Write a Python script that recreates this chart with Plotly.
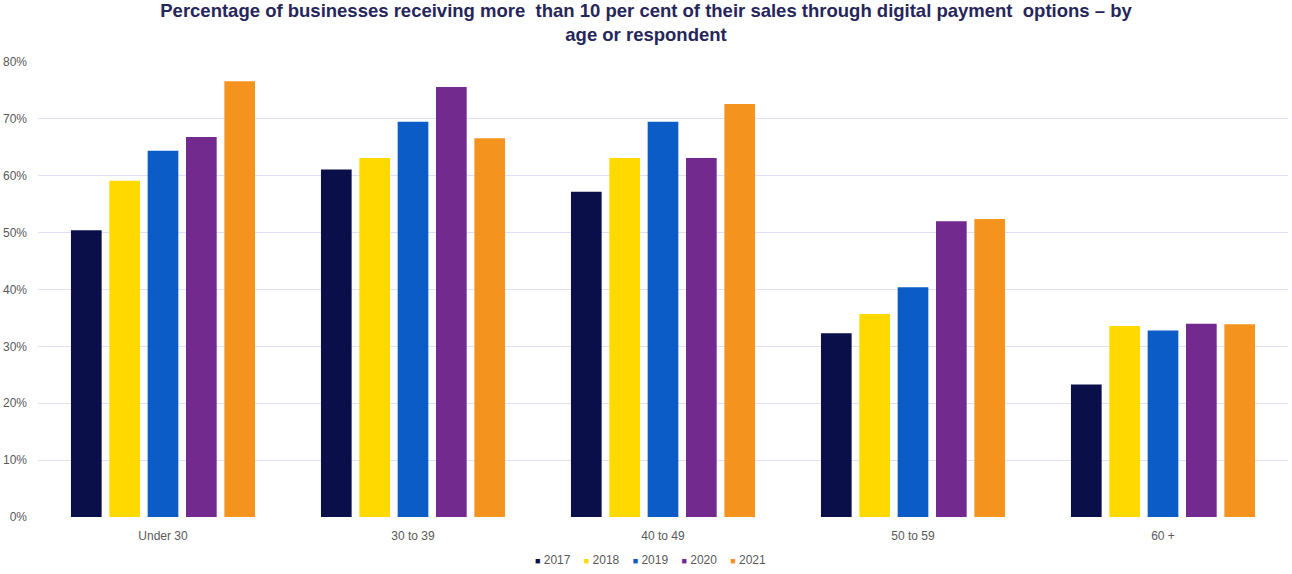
import plotly.graph_objects as go

# Age bands of the respondent
categories = ["Under 30", "30 to 39", "40 to 49", "50 to 59", "60 +"]

# Share of businesses (%) receiving >10% of sales via digital payments
years = ["2017", "2018", "2019", "2020", "2021"]
share_2017 = [50.4, 61.1, 57.2, 32.3, 23.3]
share_2018 = [59.1, 63.1, 63.1, 35.7, 33.6]
share_2019 = [64.4, 69.5, 69.5, 40.4, 32.8]
share_2020 = [66.8, 75.6, 63.1, 52.0, 34.0]
share_2021 = [76.6, 66.6, 72.6, 52.4, 33.9]

series = [share_2017, share_2018, share_2019, share_2020, share_2021]
colors = ["#0a0f4a", "#ffd900", "#0b5cc6", "#722a8e", "#f4931e"]

fig = go.Figure()
for year, values, color in zip(years, series, colors):
    fig.add_trace(go.Bar(
        name=year,
        x=categories,
        y=values,
        marker=dict(color=color, line=dict(width=0)),
        showlegend=False,
    ))

# Compact key below the axis: small coloured square followed by the year
key_text = "&nbsp;&nbsp;&nbsp;&nbsp;".join(
    f"<span style='color:{c};font-size:9px'>■</span>&nbsp;{y}" for y, c in zip(years, colors)
)
fig.add_annotation(
    text=key_text,
    xref="paper", yref="paper",
    x=0.49, y=-0.095,
    xanchor="center", yanchor="middle",
    showarrow=False,
    font=dict(size=12, color="#595959"),
)

fig.update_layout(
    width=1292,
    height=574,
    barmode="group",
    bargap=0.233,
    bargroupgap=0.2,
    plot_bgcolor="white",
    paper_bgcolor="white",
    margin=dict(l=38, r=4, t=62, b=57),
    title=dict(
        text="Percentage of businesses receiving more  than 10 per cent of their sales through digital payment  options – by<br>age or respondent",
        x=0.5,
        xanchor="center",
        y=0.971,
        yanchor="middle",
        font=dict(family="Liberation Sans, Arial, sans-serif", size=18.5, color="#26265a", weight="bold"),
    ),
    font=dict(family="Liberation Sans, Arial, sans-serif", size=12, color="#595959"),
)

fig.update_yaxes(
    range=[0, 80],
    dtick=10,
    ticksuffix="%",
    showgrid=True,
    gridcolor="#dedef6",
    gridwidth=1,
    zeroline=False,
    showline=False,
    ticks="",
    ticklabelstandoff=10,
    tickfont=dict(size=12, color="#595959"),
)
fig.update_xaxes(
    showline=False,
    ticks="",
    ticklabelstandoff=10,
    tickfont=dict(size=12, color="#595959"),
)

fig.write_html("out.html")
